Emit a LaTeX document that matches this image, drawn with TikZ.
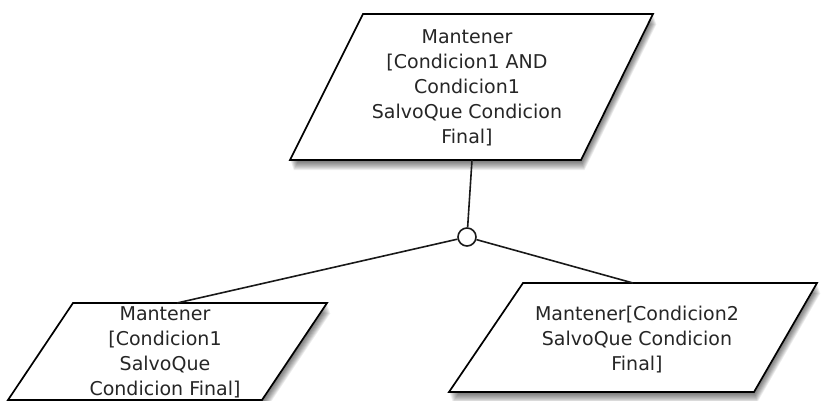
\documentclass[tikz,border=0pt]{standalone}
\usepackage{fontspec}
\setmainfont{DejaVu Sans}
\begin{document}
\begin{tikzpicture}[x=1pt,y=-1pt,
  box/.style={draw=black, line width=1.7pt, fill=white, line join=miter},
  boxshadow/.style={fill=black, opacity=0.07},
  lbl/.style={align=center, font=\fontsize{19}{25}\selectfont, text=black!85, inner sep=0pt},
  conn/.style={line width=1.6pt, draw=black!90},
  junction/.style={circle, draw=black!90, line width=1.6pt, fill=white, minimum size=18pt, inner sep=0pt}]
\useasboundingbox (0,0) rectangle (821,401);
% box corners
\coordinate (t1) at (363,14);  \coordinate (t2) at (653,14);
\coordinate (t3) at (581,160); \coordinate (t4) at (290,160);
\coordinate (l1) at (73,303);  \coordinate (l2) at (327,303);
\coordinate (l3) at (262,400); \coordinate (l4) at (8,400);
\coordinate (r1) at (523,283); \coordinate (r2) at (817,283);
\coordinate (r3) at (754,392); \coordinate (r4) at (449,392);
% shadows
\foreach \d in {1,2,...,10} {
  \begin{scope}[every coordinate/.style={}]
    \fill[boxshadow] ([xshift=0.35*\d pt,yshift=-\d pt]t1) -- ([xshift=0.35*\d pt,yshift=-\d pt]t2) -- ([xshift=0.35*\d pt,yshift=-\d pt]t3) -- ([xshift=0.35*\d pt,yshift=-\d pt]t4) -- cycle;
    \fill[boxshadow] ([xshift=0.35*\d pt,yshift=-\d pt]l1) -- ([xshift=0.35*\d pt,yshift=-\d pt]l2) -- ([xshift=0.35*\d pt,yshift=-\d pt]l3) -- ([xshift=0.35*\d pt,yshift=-\d pt]l4) -- cycle;
    \fill[boxshadow] ([xshift=0.35*\d pt,yshift=-\d pt]r1) -- ([xshift=0.35*\d pt,yshift=-\d pt]r2) -- ([xshift=0.35*\d pt,yshift=-\d pt]r3) -- ([xshift=0.35*\d pt,yshift=-\d pt]r4) -- cycle;
  \end{scope}
}
% boxes
\draw[box] (t1) -- (t2) -- (t3) -- (t4) -- cycle;
\draw[box] (l1) -- (l2) -- (l3) -- (l4) -- cycle;
\draw[box] (r1) -- (r2) -- (r3) -- (r4) -- cycle;
% labels
\node[lbl] (top) at (467,88) {Mantener\\{[}Condicion1 AND\\Condicion1\\SalvoQue Condicion\\Final{]}};
\node[lbl] (left) at (165,352) {Mantener\\{[}Condicion1\\SalvoQue\\Condicion Final{]}};
\node[lbl] (right) at (637,340) {Mantener{[}Condicion2\\SalvoQue Condicion\\Final{]}};
% connectors
\coordinate (topattach) at (472,160);
\coordinate (leftattach) at (177,303);
\coordinate (rightattach) at (633,283);
\node[junction] (junc) at (467,237) {};
\draw[conn] (topattach) -- (junc);
\draw[conn] (junc) -- (leftattach);
\draw[conn] (junc) -- (rightattach);
\end{tikzpicture}
\end{document}
